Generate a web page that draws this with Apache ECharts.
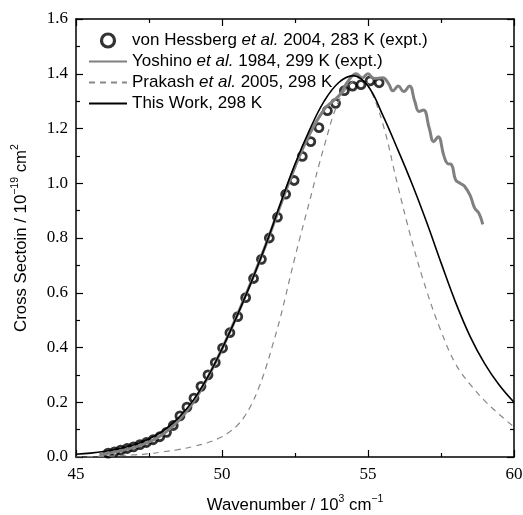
<!DOCTYPE html>
<html>
<head>
<meta charset="utf-8">
<script src="https://cdn.jsdelivr.net/npm/echarts@6/dist/echarts.min.js"></script>
<style>
html,body{margin:0;padding:0;background:#fff;}
#chart{width:523px;height:515px;}
</style>
</head>
<body>
<div id="chart"></div>
<script>
// ---- data (x in 10^3 cm^-1, y in 10^-19 cm^2) ----
const seriesNames = [
  'von Hessberg et al. 2004, 283 K (expt.)',
  'Yoshino et al. 1984, 299 K (expt.)',
  'Prakash et al. 2005, 298 K',
  'This Work, 298 K'
];

const hessbergX = [46.10,46.32,46.53,46.75,46.97,47.19,47.41,47.64,47.87,48.10,48.33,48.56,48.80,49.04,49.28,49.52,49.77,50.02,50.27,50.54,50.81,51.08,51.35,51.62,51.90,52.18,52.47,52.75,53.04,53.32,53.61,53.89,54.19,54.47,54.76,55.07,55.38];
const hessbergY = [0.014,0.019,0.025,0.031,0.037,0.045,0.053,0.063,0.074,0.090,0.115,0.150,0.182,0.215,0.258,0.300,0.345,0.398,0.454,0.513,0.582,0.652,0.722,0.800,0.876,0.960,1.010,1.098,1.152,1.203,1.265,1.292,1.338,1.355,1.360,1.374,1.367];

const yoshinoX = [45.8,46.5,47.0,47.5,48.0,48.5,49.0,49.5,50.0,50.5,51.0,51.5,52.0,52.5,53.0,53.5,53.8,54.05,54.3,54.6,54.8,55.0,55.2,55.5,55.7,55.85,56.04,56.22,56.42,56.6,56.75,56.9,57.1,57.25,57.4,57.6,57.72,57.86,58.0,58.15,58.3,58.5,58.65,58.8,58.93];
const yoshinoY = [0.008,0.022,0.035,0.055,0.085,0.132,0.198,0.288,0.395,0.513,0.640,0.775,0.920,1.060,1.180,1.270,1.300,1.325,1.370,1.400,1.385,1.400,1.383,1.385,1.365,1.338,1.355,1.335,1.355,1.300,1.262,1.268,1.200,1.152,1.170,1.100,1.072,1.068,1.012,1.000,0.990,0.955,0.910,0.890,0.850];

const prakashX = [45.0,46.0,47.0,47.5,48.0,48.5,49.0,49.5,50.0,50.25,50.5,50.75,51.0,51.25,51.5,51.75,52.0,52.5,53.0,53.5,54.0,54.5,54.75,55.0,55.5,56.0,56.5,57.0,57.5,58.0,58.5,59.0,59.5,60.0];
const prakashY = [0.000,0.003,0.008,0.012,0.019,0.027,0.038,0.052,0.074,0.091,0.113,0.145,0.190,0.250,0.325,0.415,0.510,0.730,0.935,1.135,1.300,1.375,1.385,1.360,1.220,1.000,0.790,0.610,0.460,0.340,0.265,0.205,0.155,0.110];

const thisWorkX = [45.0,45.5,46.0,46.5,47.0,47.5,48.0,48.5,49.0,49.5,50.0,50.5,51.0,51.5,52.0,52.5,53.0,53.5,54.0,54.5,55.0,55.5,56.0,56.5,57.0,57.5,58.0,58.5,59.0,59.5,60.0];
const thisWorkY = [0.010,0.014,0.021,0.031,0.045,0.066,0.097,0.142,0.205,0.290,0.395,0.512,0.638,0.775,0.925,1.070,1.195,1.300,1.368,1.393,1.355,1.250,1.128,1.000,0.860,0.710,0.565,0.440,0.340,0.262,0.200];

function pairs(xs, ys){ return xs.map((x,i)=>[x, ys[i]]); }

const serifFont = '"Liberation Serif","Times New Roman",serif';
const sansFont = '"Liberation Sans",Arial,sans-serif';
const titleRich = {
  m:{fontFamily:sansFont, fontSize:16.8, color:'#000', lineHeight:20, verticalAlign:'bottom'},
  s:{fontFamily:sansFont, fontSize:10.5, color:'#000', lineHeight:20, verticalAlign:'top'}
};

const chart = echarts.init(document.getElementById('chart'), null, {renderer:'canvas'});

function xAxisCfg(pos, showLabel){
  return {
    type:'value', position:pos, min:45, max:60, interval:5,
    axisLine:{show:true, onZero:false, lineStyle:{color:'#000', width:1.5}},
    axisTick:{show:true, inside:true, length:7, lineStyle:{color:'#000', width:1.2}},
    minorTick:{show:true, splitNumber:2, length:4, lineStyle:{color:'#000', width:1.2}},
    splitLine:{show:false},
    axisLabel:{show:showLabel, margin:9, color:'#000', fontFamily:serifFont, fontSize:17},
    name: showLabel ? '{m|Wavenumber / 10}{s|3}{m| cm}{s|−1}' : '',
    nameLocation:'middle', nameGap:37,
    nameTextStyle:{rich:titleRich}
  };
}
function yAxisCfg(pos, showLabel){
  return {
    type:'value', position:pos, min:0, max:1.6, interval:0.2,
    axisLine:{show:true, onZero:false, lineStyle:{color:'#000', width:1.5}},
    axisTick:{show:true, inside:true, length:7, lineStyle:{color:'#000', width:1.2}},
    minorTick:{show:true, splitNumber:2, length:4, lineStyle:{color:'#000', width:1.2}},
    splitLine:{show:false},
    axisLabel:{show:showLabel, margin:8, color:'#000', fontFamily:serifFont, fontSize:17,
      formatter:v=>v.toFixed(1)},
    name: showLabel ? '{m|Cross Sectoin / 10}{s|−19}{m| cm}{s|2}' : '',
    nameLocation:'middle', nameGap:46, nameRotate:90,
    nameTextStyle:{rich:titleRich}
  };
}

const hiddenSymbol = {opacity:0};
const option = {
  animation:false,
  backgroundColor:'#fff',
  grid:{left:76, right:9, top:19, bottom:58, containLabel:false, outerBoundsMode:'none'},
  xAxis:[xAxisCfg('bottom', true), xAxisCfg('top', false)],
  yAxis:[yAxisCfg('left', true), yAxisCfg('right', false)],
  legend:{
    orient:'vertical', left:83, top:27,
    itemWidth:38, itemHeight:13, itemGap:4,
    data:[
      {name:seriesNames[0], icon:'circle', itemStyle:{color:'rgba(255,255,255,0)', borderColor:'#000', borderWidth:3.2}},
      {name:seriesNames[1], itemStyle:hiddenSymbol},
      {name:seriesNames[2], itemStyle:hiddenSymbol},
      {name:seriesNames[3], itemStyle:hiddenSymbol}
    ],
    formatter:name=>name.replace('et al.', '{i|et al.}'),
    textStyle:{fontFamily:sansFont, fontSize:17, color:'#000', lineHeight:16,
      rich:{i:{fontFamily:sansFont, fontSize:17, fontStyle:'italic', color:'#000'}}}
  },
  series:[
    {
      name:seriesNames[0], type:'scatter', xAxisIndex:0, yAxisIndex:0,
      data:pairs(hessbergX, hessbergY),
      symbol:'circle', symbolSize:8,
      itemStyle:{color:'rgba(255,255,255,0)', borderColor:'#000', borderWidth:2.8}
    },
    {
      name:seriesNames[1], type:'line', xAxisIndex:0, yAxisIndex:0,
      data:pairs(yoshinoX, yoshinoY), symbol:'none', smooth:0.45,
      lineStyle:{color:'#808080', width:3}, itemStyle:{color:'#808080'}
    },
    {
      name:seriesNames[2], type:'line', xAxisIndex:0, yAxisIndex:0,
      data:pairs(prakashX, prakashY), symbol:'none', smooth:0.4,
      lineStyle:{color:'#888', width:1.2, type:[6,5]}, itemStyle:{color:'#888'}
    },
    {
      name:seriesNames[3], type:'line', xAxisIndex:0, yAxisIndex:0,
      data:pairs(thisWorkX, thisWorkY), symbol:'none', smooth:0.4,
      lineStyle:{color:'#000', width:1.6}, itemStyle:{color:'#000'}
    }
  ]
};
chart.setOption(option);
</script>
</body>
</html>
